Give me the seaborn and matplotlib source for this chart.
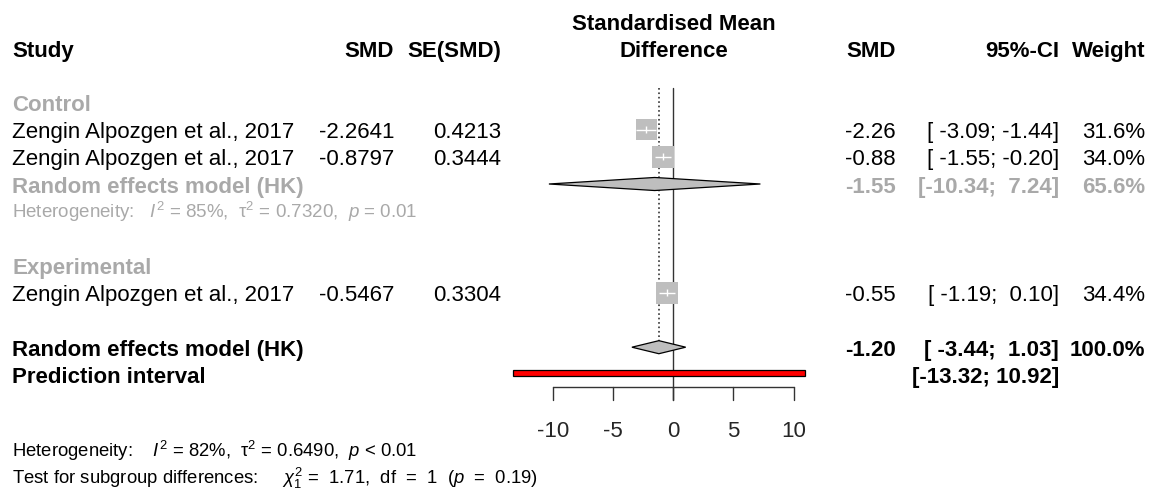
import matplotlib
matplotlib.use("Agg")
import matplotlib.pyplot as plt
from matplotlib.transforms import blended_transform_factory
import numpy as np
import pandas as pd
import seaborn as sns

# ---------------- data ----------------
studies = ["Zengin Alpozgen et al., 2017", "Zengin Alpozgen et al., 2017",
           "Zengin Alpozgen et al., 2017"]
groups = ["Control", "Control", "Experimental"]
smd = [-2.2641, -0.8797, -0.5467]
se_smd = [0.4213, 0.3444, 0.3304]
ci_lower = [-3.09, -1.55, -1.19]
ci_upper = [-1.44, -0.20, 0.10]
weights = [31.6, 34.0, 34.4]
smd_text = ["-2.2641", "-0.8797", "-0.5467"]
se_text = ["0.4213", "0.3444", "0.3304"]
smd_round_text = ["-2.26", "-0.88", "-0.55"]
ci_text = ["[ -3.09; -1.44]", "[ -1.55; -0.20]", "[ -1.19;  0.10]"]
weight_text = ["31.6%", "34.0%", "34.4%"]

sub_names = ["Control", "Experimental"]
sub_est = [-1.55]
sub_lower = [-10.34]
sub_upper = [7.24]
sub_est_text = ["-1.55"]
sub_ci_text = ["[-10.34;  7.24]"]
sub_weight_text = ["65.6%"]
sub_het_text = r"Heterogeneity:   $I^2$ = 85%,  τ$^2$ = 0.7320,  $p$ = 0.01"

overall_est = [-1.20]
overall_lower = [-3.44]
overall_upper = [1.03]
overall_est_text = "-1.20"
overall_ci_text = "[ -3.44;  1.03]"
overall_weight_text = "100.0%"
pred_lower = [-13.32]
pred_upper = [10.92]
pred_text = "[-13.32; 10.92]"
het_text = r"Heterogeneity:    $I^2$ = 82%,  τ$^2$ = 0.6490,  $p$ < 0.01"
subgroup_test_text = (r"Test for subgroup differences:     $\chi^2_1$ "
                      r"=  1.71,  df  =  1  ($p$  =  0.19)")
x_ticks = [-10, -5, 0, 5, 10]
x_tick_labels = ["-10", "-5", "0", "5", "10"]

# ---------------- style ----------------
sns.set_style("white")
plt.rcParams["font.family"] = ["Liberation Sans", "DejaVu Sans"]
plt.rcParams["mathtext.fontset"] = "custom"
plt.rcParams["mathtext.rm"] = "Liberation Sans"
plt.rcParams["mathtext.it"] = "Liberation Sans:italic"
plt.rcParams["mathtext.bf"] = "Liberation Sans:bold"
plt.rcParams["mathtext.sf"] = "Liberation Sans"

W, H = 1155, 500
fig = plt.figure(figsize=(W / 100, H / 100), dpi=100)
ax = fig.add_axes([0, 0, 1, 1])

# layout: x pixel = X0 + PXU * value ; y pixel = Y0 + ROW * row
X0, PXU = 673.3, 12.03
Y0, ROW = 48.0, 27.2
ax.set_xlim(-X0 / PXU, (W - X0) / PXU)
ax.set_ylim((H - Y0) / ROW, -Y0 / ROW)
ax.set_axis_off()

GREY_TXT = "#A9A9A9"
SQUARE = "#BEBEBE"
DARK = "#333333"

blend = blended_transform_factory(fig.transFigure, ax.transData)


def put(px, row, s, ha="left", size=16, weight="normal", color="black", off=8.5):
    ax.text(px / W, row + off / ROW, s, transform=blend, ha=ha, va="baseline",
            fontsize=size, fontweight=weight, color=color)


# rows
study_rows = [3, 4, 9]
group_rows = [2, 8]
sub_rows = [5]
sub_het_rows = [6]
overall_row = 11
pred_row = 12

# ---------------- headers ----------------
put(12, 0, "Study", weight="bold")
put(394, 0, "SMD", ha="right", weight="bold")
put(501, 0, "SE(SMD)", ha="right", weight="bold")
put(673.5, -0.97, "Standardised Mean", ha="center", weight="bold")
put(673.5, 0, "Difference", ha="center", weight="bold")
put(896, 0, "SMD", ha="right", weight="bold")
put(1059, 0, "95%-CI", ha="right", weight="bold")
put(1145, 0, "Weight", ha="right", weight="bold")

# group labels
for name, r in zip(sub_names, group_rows):
    put(12, r, name, weight="bold", color=GREY_TXT)

# study rows text
for i, r in enumerate(study_rows):
    put(12, r, studies[i])
    put(394, r, smd_text[i], ha="right")
    put(501, r, se_text[i], ha="right")
    put(896, r, smd_round_text[i], ha="right")
    put(1059, r, ci_text[i], ha="right")
    put(1145, r, weight_text[i], ha="right")

# subgroup summary text
for i, r in enumerate(sub_rows):
    put(12, r, "Random effects model (HK)", weight="bold", color=GREY_TXT)
    put(896, r, sub_est_text[i], ha="right", weight="bold", color=GREY_TXT)
    put(1059, r, sub_ci_text[i], ha="right", weight="bold", color=GREY_TXT)
    put(1145, r, sub_weight_text[i], ha="right", weight="bold", color=GREY_TXT)
for r in sub_het_rows:
    put(12, r, sub_het_text, size=13.5, color=GREY_TXT, off=6.5)

# overall text
put(12, overall_row, "Random effects model (HK)", weight="bold")
put(896, overall_row, overall_est_text, ha="right", weight="bold")
put(1059, overall_row, overall_ci_text, ha="right", weight="bold")
put(1145, overall_row, overall_weight_text, ha="right", weight="bold")
put(12, pred_row, "Prediction interval", weight="bold")
put(1059, pred_row, pred_text, ha="right", weight="bold")

# bottom notes
put(12, (457 - Y0) / ROW, het_text, size=13.3, off=0)
put(12, (484 - Y0) / ROW, subgroup_test_text, size=13.3, off=0)

# ---------------- plot marks ----------------
line_top = (88 - Y0) / ROW
axis_row = (387 - Y0) / ROW
tick_end = (400 - Y0) / ROW

# reference line at 0 and dotted line at overall estimate
ax.plot([0, 0], [line_top, tick_end], color=DARK, lw=1.0, zorder=2)
ax.plot([overall_est[0], overall_est[0]], [line_top, overall_row - 0.24],
        color=DARK, lw=1.2, ls=":", zorder=2)

# study squares (size ~ sqrt(weight))
df = pd.DataFrame({"smd": smd, "row": study_rows, "w": weights})
side_pt = [22 * np.sqrt(w / max(weights)) * 0.72 for w in weights]
sns.scatterplot(data=df, x="smd", y="row", marker="s", s=[v ** 2 for v in side_pt],
                color=SQUARE, linewidth=0, ax=ax, zorder=3, legend=False)
ax.hlines(study_rows, ci_lower, ci_upper, color="white", lw=1.0, zorder=4)
ax.vlines(smd, [r - 0.13 for r in study_rows], [r + 0.13 for r in study_rows],
          color="white", lw=1.0, zorder=4)


def diamond(lo, est, hi, row, h=0.24):
    ax.fill([lo, est, hi, est], [row, row - h, row, row + h],
            facecolor=SQUARE, edgecolor="black", lw=0.9, zorder=5)


for lo, e, hi, r in zip(sub_lower, sub_est, sub_upper, sub_rows):
    diamond(lo, e, hi, r)
diamond(overall_lower[0], overall_est[0], overall_upper[0], overall_row)

# prediction interval bar
pr = (373 - Y0) / ROW
ph = 0.1
ax.fill([pred_lower[0], pred_upper[0], pred_upper[0], pred_lower[0]],
        [pr - ph, pr - ph, pr + ph, pr + ph],
        facecolor="red", edgecolor="black", lw=0.9, zorder=5)

# x axis
ax.plot([x_ticks[0], x_ticks[-1]], [axis_row, axis_row], color=DARK, lw=1.0, zorder=2)
for t, lab in zip(x_ticks, x_tick_labels):
    ax.plot([t, t], [axis_row, tick_end], color=DARK, lw=1.0, zorder=2)
    ax.text(t, (437 - Y0) / ROW, lab, ha="center", va="baseline", fontsize=16)

fig.savefig("out.png", dpi=100)
